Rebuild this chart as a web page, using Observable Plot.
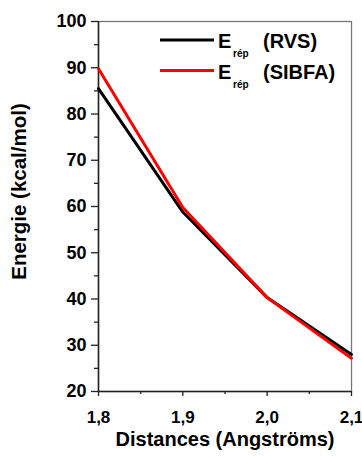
<!DOCTYPE html>
<html><head><meta charset="utf-8">
<script src="https://cdn.jsdelivr.net/npm/d3@7"></script>
<script src="https://cdn.jsdelivr.net/npm/@observablehq/plot@0.6"></script>
<style>
body{margin:0;background:#fff;}
#wrap{position:relative;width:362px;height:456px;}
</style></head><body><div id="wrap"></div>
<script>
const distances = [1.8, 1.9, 2.0, 2.1];
const rvs = [85.5, 58.8, 40.3, 28.0];
const sibfa = [89.8, 59.8, 40.3, 27.2];
const seriesNames = ["RVS", "SIBFA"];
const seriesColors = ["#000000", "#ff0000"];
const yTicks = [20, 30, 40, 50, 60, 70, 80, 90, 100];
const yMinor = [25, 35, 45, 55, 65, 75, 85, 95];
const xTicks = [1.8, 1.9, 2.0, 2.1];
const xMinor = [1.85, 1.95, 2.05];
const xTitle = "Distances (Angströms)";
const yTitle = "Energie (kcal/mol)";

const data = [
  ...distances.map((d, i) => ({x: d, y: rvs[i], s: seriesNames[0]})),
  ...distances.map((d, i) => ({x: d, y: sibfa[i], s: seriesNames[1]}))
];
const fmt = d => d.toFixed(1).replace(".", ",");
const font = "Liberation Sans, Arial, sans-serif";

const plot = Plot.plot({
  width: 362, height: 456,
  marginLeft: 98, marginTop: 21, marginRight: 11, marginBottom: 65,
  style: {fontFamily: font, fontSize: "17px", fontWeight: "bold", color: "#000", background: "#fff", overflow: "visible"},
  x: {domain: [1.8, 2.1]},
  y: {domain: [20, 100]},
  color: {domain: seriesNames, range: seriesColors},
  marks: [
    Plot.frame({stroke: "#777", strokeWidth: 1.3}),
    Plot.axisX(xTicks, {tickFormat: fmt, tickSize: 5, tickPadding: 14, label: null, fontSize: 17, fontWeight: "bold", stroke: "#222", strokeWidth: 1.3}),
    Plot.axisX(xMinor, {tickFormat: () => "", tickSize: 3, label: null, stroke: "#222", strokeWidth: 1.3}),
    Plot.axisY(yTicks, {tickSize: 7, tickPadding: 5, label: null, fontSize: 18, fontWeight: "bold", stroke: "#222", strokeWidth: 1.3}),
    Plot.axisY(yMinor, {tickFormat: () => "", tickSize: 4, label: null, stroke: "#222", strokeWidth: 1.3}),
    Plot.ruleX([1.8], {stroke: "#222", strokeWidth: 1.5}),
    Plot.ruleY([20], {stroke: "#222", strokeWidth: 1.5}),
    Plot.line(data, {x: "x", y: "y", stroke: "s", strokeWidth: 3}),
    Plot.text([xTitle], {frameAnchor: "bottom", text: d => d, textAnchor: "middle", dy: 54, fontSize: 20, fontWeight: "bold", fill: "#000"}),
    Plot.text([yTitle], {frameAnchor: "left", text: d => d, textAnchor: "middle", rotate: -90, dx: -79, dy: -15, fontSize: 20.5, fontWeight: "bold", fill: "#000"})
  ]
});
document.getElementById("wrap").appendChild(plot);

// legend
const svg = d3.select(plot);
const leg = svg.append("g").attr("font-family", font).attr("font-weight", "bold").attr("fill", "#000").attr("text-anchor", "start");
const legY = [40, 70.5];
seriesNames.forEach((name, i) => {
  leg.append("line").attr("x1", 160).attr("x2", 214).attr("y1", legY[i]).attr("y2", legY[i])
    .attr("stroke", seriesColors[i]).attr("stroke-width", 3);
  const t = leg.append("text").attr("y", legY[i] + 8).attr("font-size", 20).attr("text-anchor", "start");
  t.append("tspan").attr("x", 218).text("E");
  t.append("tspan").attr("x", 233).attr("dy", 9).attr("font-size", 10).text("rép");
  t.append("tspan").attr("x", 263).attr("dy", -9).text("(" + name + ")");
});
</script>
</body></html>
